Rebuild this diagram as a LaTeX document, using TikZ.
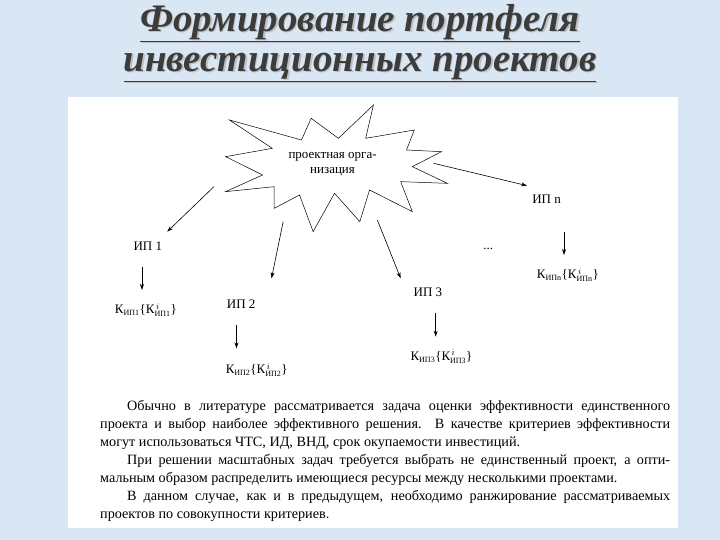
\documentclass[tikz,border=0pt]{standalone}
\usepackage{fontspec}
\setmainfont{Liberation Serif}
\usetikzlibrary{arrows.meta}
\definecolor{bgblue}{HTML}{D9E6F4}
\definecolor{titlec}{HTML}{3C3C3C}
\tikzset{arr/.style={-{Stealth[length=6pt,width=4pt]},line width=0.6pt},
lbl/.style={font=\fontsize{13}{15}\selectfont,inner sep=1pt},
ttl/.style={font=\fontsize{39}{43}\selectfont\bfseries\itshape,text=titlec}}
\newcommand{\Kx}[1]{К$_{\mbox{\footnotesize ИП#1}}$\{К$_{\mbox{\footnotesize ИП#1}}^{\,i}$\}}
\begin{document}
\begin{tikzpicture}[x=1pt,y=-1pt]
\useasboundingbox (0,0) rectangle (720,540);
\fill[bgblue] (0,0) rectangle (720,540);
\fill[white] (68,97) rectangle (678,528);
\node[ttl,text=gray!50] (t1s) at (361.5,24.5) {\underline{Формирование портфеля}};
\node[ttl] (t1) at (360,23) {\underline{Формирование портфеля}};
\node[ttl,text=gray!50] (t2s) at (361.5,68.5) {\underline{инвестиционных проектов}};
\node[ttl] (t2) at (360,67) {\underline{инвестиционных проектов}};
\begin{scope}[shift={(70,95)},x=0.389pt,y=-0.3333pt]
\draw[line width=0.5pt] (410,75)--(520,160)--(400,185)--(495,240)--(400,290)--(525,275)--(525,340)--(590,300)--(625,410)--(680,295)--(745,380)--(770,285)--(880,350)--(850,260)--(970,265)--(880,215)--(955,170)--(865,165)--(885,105)--(760,130)--(780,30)--(690,130)--(620,70)--(595,135)--cycle;
\node[lbl,align=center] (org) at (675,208) {проектная орга-\\низация};
\coordinate (s1) at (370,275); \coordinate (s2) at (548,380);
\coordinate (s3) at (790,375); \coordinate (s4) at (935,205);
\node[lbl] (ip1) at (200,455) {ИП 1};
\node[lbl] (ip2) at (440,628) {ИП 2};
\node[lbl] (ip3) at (920,592) {ИП 3};
\node[lbl] (ipn) at (1225,312) {ИП n};
\node[lbl] (dots) at (1075,462) {...};
\node[lbl] (k1) at (195,645) {\Kx{1}};
\node[lbl] (k2) at (480,825) {\Kx{2}};
\node[lbl] (k3) at (955,785) {\Kx{3}};
\node[lbl] (kn) at (1280,540) {\Kx{n}};
\coordinate (e1) at (250,410); \coordinate (e2) at (518,550);
\coordinate (e3) at (850,550); \coordinate (e4) at (1175,272);
\draw[arr] (s1)--(e1); \draw[arr] (s2)--(e2);
\draw[arr] (s3)--(e3); \draw[arr] (s4)--(e4);
\coordinate (a1) at (185,515); \coordinate (b1) at (185,585);
\coordinate (a2) at (428,690); \coordinate (b2) at (428,760);
\coordinate (a3) at (940,655); \coordinate (b3) at (940,725);
\coordinate (a4) at (1270,410); \coordinate (b4) at (1270,480);
\draw[arr] (a1)--(b1); \draw[arr] (a2)--(b2);
\draw[arr] (a3)--(b3); \draw[arr] (a4)--(b4);
\end{scope}
\node[anchor=north west,inner sep=0pt,text width=570pt,align=justify,
 font=\fontsize{14.2}{18}\selectfont] (txt) at (100,400) {\setlength{\parindent}{1.9em}\indent Обычно в литературе рассматривается задача оценки эффективности единственного\linebreak проекта и выбор наиболее эффективного решения. В качестве критериев эффективности\linebreak могут использоваться ЧТС, ИД, ВНД, срок окупаемости инвестиций.\par
\indent При решении масштабных задач требуется выбрать не единственный проект, а опти-\linebreak мальным образом распределить имеющиеся ресурсы между несколькими проектами.\par
\indent В данном случае, как и в предыдущем, необходимо ранжирование рассматриваемых\linebreak проектов по совокупности критериев.\par};
\end{tikzpicture}
\end{document}
